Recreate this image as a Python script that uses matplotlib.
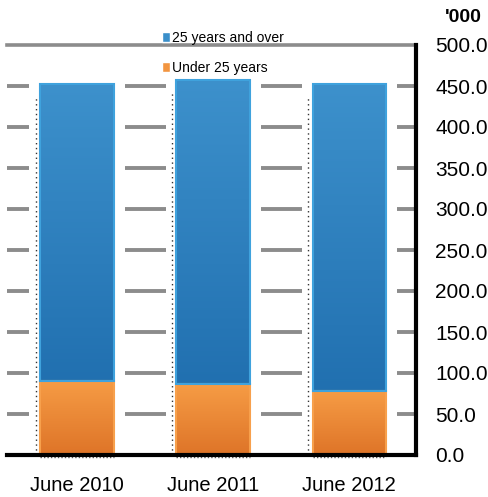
import numpy as np
import matplotlib
matplotlib.use("Agg")
import matplotlib.pyplot as plt
from matplotlib.colors import LinearSegmentedColormap
from matplotlib.patches import Patch

#--------------------------------------#
#data#

categories = ["June 2010", "June 2011", "June 2012"]
under_25 = [90.5, 86.0, 78.0]
over_25 = [361.5, 371.0, 374.0]
series_names = ["25 years and over", "Under 25 years"]
y_ticks = [0, 50, 100, 150, 200, 250, 300, 350, 400, 450, 500]

#--------------------------------------#
#style#

plt.rcParams['font.family'] = ['Liberation Sans', 'DejaVu Sans']
blue_cmap = LinearSegmentedColormap.from_list("b", ["#2170b0", "#3d91cc"])
orange_cmap = LinearSegmentedColormap.from_list("o", ["#de7428", "#f69c45"])
width = 0.54

fig = plt.figure(figsize=(4.89, 4.97), dpi=100)
ax = fig.add_axes([7/489, 1-455/497, 409/489, 410/497])
ax.set_xlim(-0.515, 2.49)
ax.set_ylim(0, 500)

# gridlines only between the bars
for v in y_ticks[1:-1]:
    for i in range(len(categories) + 1):
        ax.hlines(v, i - 0.5 - 0.15, i - 0.5 + 0.15, color="#8c8c8c", lw=2.8, zorder=1)
ax.axhline(500, color="#8c8c8c", lw=2.6, zorder=1, clip_on=False)

#--------------------------------------#
#bars with vertical gradient#

grad = np.linspace(0, 1, 256).reshape(-1, 1)
for i in range(len(categories)):
    x0 = i - width / 2
    low, high = under_25[i], under_25[i] + over_25[i]
    for y0, y1, cmap, edge in [(0, low, orange_cmap, "#f7a04c"),
                               (low, high, blue_cmap, "#3fa2dd")]:
        rect = ax.bar(i, y1 - y0, width, bottom=y0, color="none",
                      edgecolor=edge, lw=1.5, zorder=3)[0]
        im = ax.imshow(grad, cmap=cmap, aspect="auto", origin="lower",
                       extent=[x0, x0 + width, y0, y1], zorder=2)
        im.set_clip_path(rect)
    # dotted shadow line on the left and below
    ax.vlines(x0 - 0.03, 0, high - 15, color="#333333", lw=1.0,
              linestyles=(0, (1, 2.5)), zorder=2)
    ax.hlines(-3, x0, x0 + width, color="#555555", lw=1.0,
              linestyles=(0, (1, 1.5)), zorder=2, clip_on=False)

ax.set_xlim(-0.515, 2.49)
ax.set_ylim(0, 500)

#--------------------------------------#
#axes#

for s in ["top", "left"]:
    ax.spines[s].set_visible(False)
ax.spines["bottom"].set_linewidth(3)
ax.spines["right"].set_linewidth(3)
ax.spines["bottom"].set_zorder(5)

ax.yaxis.tick_right()
ax.set_yticks(y_ticks)
ax.set_yticklabels([f"{v:.1f}" for v in y_ticks], fontsize=15)
ax.tick_params(axis="y", length=0, pad=14)
ax.set_xticks(range(len(categories)))
ax.set_xticklabels(categories, fontsize=14.5)
ax.tick_params(axis="x", length=0, pad=15)

fig.text(463/489, 1-18/497, "'000", fontsize=14, fontweight="bold",
         ha="center", va="center")

handles = [Patch(facecolor="#3a8fca", edgecolor="white"),
           Patch(facecolor="#f29540", edgecolor="white")]
fig.legend(handles, series_names, loc="upper left",
           bbox_to_anchor=(162/489, 1-31/497), frameon=False, fontsize=10,
           handlelength=0.55, handleheight=0.8, handletextpad=0.15,
           labelspacing=1.15, borderpad=0, borderaxespad=0)

fig.savefig("out.png", dpi=100)
